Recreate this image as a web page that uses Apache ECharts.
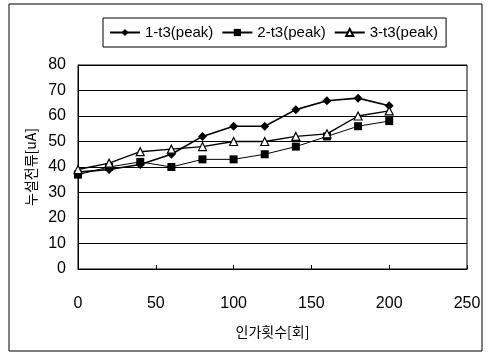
<!DOCTYPE html>
<html>
<head>
<meta charset="utf-8">
<script src="https://cdn.jsdelivr.net/npm/echarts@6/dist/echarts.min.js"></script>
<style>
html, body { margin: 0; padding: 0; background: #fff; }
#chart { width: 490px; height: 356px; }
</style>
</head>
<body>
<div id="chart"></div>
<script>
// x: 인가횟수
const counts = [0, 20, 40, 60, 80, 100, 120, 140, 160, 180, 200];
const peak1 = [38, 39, 41, 45, 52, 56, 56, 62.5, 66, 67, 64];
const peak2 = [37, 40, 42, 40, 43, 43, 45, 48, 52, 56, 58];
const peak3 = [39, 41.5, 46, 47, 48, 50, 50, 52, 53, 60, 62];
const seriesNames = ["1-t3(peak)", "2-t3(peak)", "3-t3(peak)"];

const pairs = vals => counts.map((c, i) => [c, vals[i]]);

const chart = echarts.init(document.getElementById("chart"));
const font = "Liberation Sans, Arial, sans-serif";
const kfont = "Noto Sans CJK KR, sans-serif";

const lineBase = {
    type: "line",
    color: "#000",
    symbolSize: 8,
    animation: false,
};

chart.setOption({
    animation: false,
    textStyle: { fontFamily: font, color: "#000" },
    graphic: [
        {
            type: "rect",
            shape: { x: 9, y: 4, width: 473, height: 347 },
            style: { fill: "none", stroke: "#000", lineWidth: 1 },
            silent: true,
        },
    ],
    legend: {
        top: 18,
        left: 103,
        width: 345,
        itemGap: 8,
        itemWidth: 30,
        itemHeight: 9,
        padding: [7, 8, 7, 6],
        borderColor: "#000",
        borderWidth: 1,
        textStyle: { fontSize: 15, color: "#000", fontFamily: font },
        data: seriesNames,
    },
    grid: {
        left: 78,
        right: 23,
        top: 65,
        bottom: 87,
        show: true,
        borderColor: "#000",
        borderWidth: 1,
    },
    xAxis: {
        type: "value",
        min: 0,
        max: 250,
        interval: 50,
        name: "인가횟수[회]",
        nameLocation: "middle",
        nameGap: 56,
        nameTextStyle: { fontSize: 14, fontFamily: kfont, color: "#000" },
        axisLine: { lineStyle: { color: "#000" } },
        axisTick: { show: true, inside: true, length: 4, lineStyle: { color: "#000" } },
        axisLabel: { fontSize: 16, color: "#000", margin: 27 },
        splitLine: { show: false },
    },
    yAxis: {
        type: "value",
        min: 0,
        max: 80,
        interval: 10,
        name: "누설전류[uA]",
        nameLocation: "middle",
        nameGap: 38,
        nameTextStyle: { fontSize: 14, fontFamily: kfont, color: "#000" },
        axisLine: { show: true, lineStyle: { color: "#000" } },
        axisTick: { show: false },
        axisLabel: { fontSize: 16, color: "#000", margin: 12 },
        splitLine: { show: true, lineStyle: { color: "#000", width: 1 } },
    },
    series: [
        Object.assign({}, lineBase, {
            name: seriesNames[0],
            symbol: "diamond",
            symbolSize: 9,
            itemStyle: { color: "#000" },
            lineStyle: { color: "#000", width: 1.6 },
            data: pairs(peak1),
        }),
        Object.assign({}, lineBase, {
            name: seriesNames[1],
            symbol: "rect",
            symbolSize: 8,
            itemStyle: { color: "#000" },
            lineStyle: { color: "#000", width: 1 },
            data: pairs(peak2),
        }),
        Object.assign({}, lineBase, {
            name: seriesNames[2],
            symbol: "triangle",
            symbolSize: 8,
            showAllSymbol: true,
            itemStyle: { color: "#fff", borderColor: "#000", borderWidth: 1.2 },
            lineStyle: { color: "#000", width: 1.4 },
            data: pairs(peak3),
        }),
    ],
});
</script>
</body>
</html>
